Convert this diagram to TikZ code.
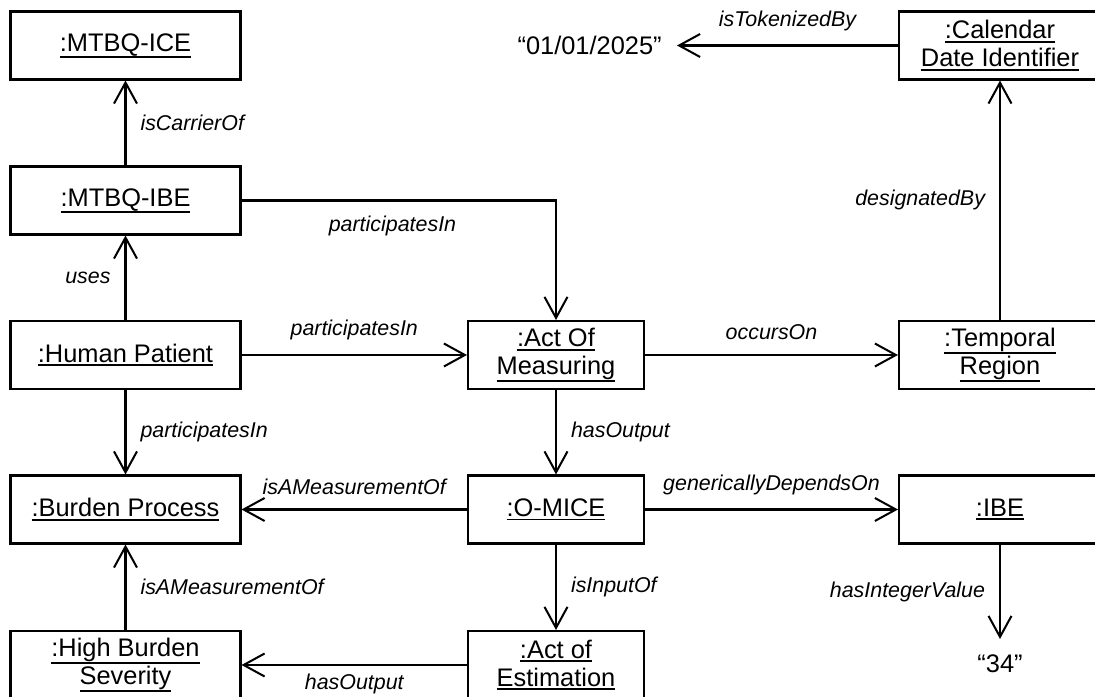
\documentclass[tikz,border=0pt]{standalone}
\usepackage{fontspec}
\setmainfont{Liberation Sans}
\usepackage{tikz}
\usetikzlibrary{arrows.meta}

\newcommand{\objname}[1]{\leavevmode\setbox0=\hbox{#1}%
  \rlap{\rule[\dimexpr-\dp0/2-2.3pt\relax]{\wd0}{1.1pt}}\box0}

\begin{document}
\begin{tikzpicture}[
  obj/.style={draw, line width=1.15pt, minimum height=1.36cm, align=center, inner sep=0pt,
    font=\fontsize{14.46}{15.9}\selectfont},
  objl/.style={obj, minimum width=4.6cm},
  objm/.style={obj, minimum width=3.52cm},
  objr/.style={obj, minimum width=4.04cm},
  lit/.style={font=\fontsize{14.46}{15.9}\selectfont, inner sep=0.3cm},
  rel/.style={line width=1.15pt, -{Straight Barb[length=0.42cm, width=0.46cm]}},
  lbl/.style={font=\fontsize{12.18}{14}\selectfont\itshape, inner sep=0.28cm}]
  \useasboundingbox (0,0) rectangle (21.9,13.94);

  \node[objl] (ice) at (2.51,13.03) {\objname{:MTBQ-ICE}};
  \node[objl] (mtbqibe) at (2.51,9.93) {\objname{:MTBQ-IBE}};
  \node[objl] (patient) at (2.51,6.84) {\objname{:Human Patient}};
  \node[objl] (burden) at (2.51,3.75) {\objname{:Burden Process}};
  \node[objl] (severity) at (2.51,0.64) {\objname{:High Burden}\\\objname{Severity}};
  \node[objm] (measuring) at (11.12,6.84) {\objname{:Act Of}\\\objname{Measuring}};
  \node[objm] (omice) at (11.12,3.75) {\objname{:O-MICE}};
  \node[objm] (estimation) at (11.12,0.64) {\objname{:Act of}\\\objname{Estimation}};
  \node[objr] (calendar) at (20,13.03) {\objname{:Calendar}\\\objname{Date Identifier}};
  \node[objr] (temporal) at (20,6.84) {\objname{:Temporal}\\\objname{Region}};
  \node[objr] (ibe) at (20,3.75) {\objname{:IBE}};
  \node[lit, anchor=east] (date) at (13.54,13.03) {“01/01/2025”};
  \node[lit, anchor=north] (value) at (20,1.16) {“34”};

  \draw[rel] (mtbqibe) -- node[lbl, right] {isCarrierOf} (ice);
  \draw[rel] (patient) -- node[lbl, left] {uses} (mtbqibe);
  \draw[rel] (mtbqibe) -| node[lbl, below, pos=0.24] {participatesIn} (measuring);
  \draw[rel] (patient) -- node[lbl, above] {participatesIn} (measuring);
  \draw[rel] (patient) -- node[lbl, right] {participatesIn} (burden);
  \draw[rel] (measuring) -- node[lbl, above] {occursOn} (temporal);
  \draw[rel] (temporal) -- node[lbl, left] {designatedBy} (calendar);
  \draw[rel] (calendar) -- node[lbl, above] {isTokenizedBy} (date);
  \draw[rel] (measuring) -- node[lbl, right] {hasOutput} (omice);
  \draw[rel] (omice) -- node[lbl, above] {isAMeasurementOf} (burden);
  \draw[rel] (omice) -- node[lbl, above] {genericallyDependsOn} (ibe);
  \draw[rel] (ibe) -- node[lbl, left] {hasIntegerValue} (value);
  \draw[rel] (omice) -- node[lbl, right] {isInputOf} (estimation);
  \draw[rel] (estimation) -- node[lbl, below, inner sep=0.16cm] {hasOutput} (severity);
  \draw[rel] (severity) -- node[lbl, right] {isAMeasurementOf} (burden);
\end{tikzpicture}
\end{document}
